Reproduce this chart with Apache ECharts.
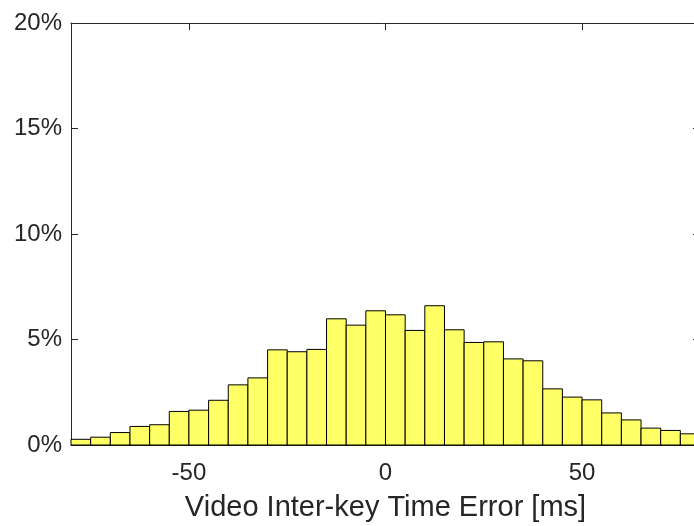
<!DOCTYPE html>
<html>
<head>
<meta charset="utf-8">
<script src="https://cdn.jsdelivr.net/npm/echarts@6/dist/echarts.min.js"></script>
<style>
  html, body { margin: 0; padding: 0; background: #fff; }
  #chart { width: 694px; height: 526px; }
</style>
</head>
<body>
<div id="chart"></div>
<script>
// Histogram of video inter-key time error, 5 ms bins from -80 to 80 ms
const binWidth = 5;
const binStarts = [-80, -75, -70, -65, -60, -55, -50, -45, -40, -35, -30, -25, -20, -15, -10, -5,
                   0, 5, 10, 15, 20, 25, 30, 35, 40, 45, 50, 55, 60, 65, 70, 75];
const binPercent = [0.27, 0.37, 0.59, 0.88, 0.96, 1.59, 1.65, 2.12, 2.85, 3.18, 4.51, 4.42, 4.53, 5.98, 5.68, 6.36,
                    6.17, 5.43, 6.60, 5.46, 4.86, 4.89, 4.08, 3.99, 2.66, 2.27, 2.14, 1.52, 1.19, 0.80, 0.69, 0.53];
const xTicks = [-50, 0, 50];
const yTicks = [0, 5, 10, 15, 20];
const xTitle = 'Video Inter-key Time Error [ms]';

const ink = '#262626';
const fontFamily = '"Liberation Sans", Arial, Helvetica, sans-serif';

const histData = binStarts.map((s, i) => [s, s + binWidth, binPercent[i]]);

const chart = echarts.init(document.getElementById('chart'), null, { renderer: 'canvas' });

chart.setOption({
  animation: false,
  backgroundColor: '#fff',
  grid: {
    left: 71, top: 23, width: 629, height: 422,
    outerBoundsMode: 'none',
    containLabel: false
  },
  xAxis: [
    {
      type: 'value', min: -80, max: 80, position: 'bottom',
      name: xTitle, nameLocation: 'middle', nameGap: 48,
      nameTextStyle: { color: ink, fontSize: 29, fontFamily: fontFamily },
      axisLine: { show: true, onZero: false, lineStyle: { color: ink, width: 1 } },
      axisTick: { show: true, inside: true, length: 7, customValues: xTicks, lineStyle: { color: ink } },
      axisLabel: { show: true, customValues: xTicks, color: ink, fontSize: 24, fontFamily: fontFamily, margin: 16 },
      splitLine: { show: false }
    },
    {
      type: 'value', min: -80, max: 80, position: 'top',
      axisLine: { show: true, onZero: false, lineStyle: { color: ink, width: 1 } },
      axisTick: { show: true, inside: true, length: 7, customValues: xTicks, lineStyle: { color: ink } },
      axisLabel: { show: false },
      splitLine: { show: false }
    }
  ],
  yAxis: [
    {
      type: 'value', min: 0, max: 20, interval: 5, position: 'left',
      axisLine: { show: true, onZero: false, lineStyle: { color: ink, width: 1 } },
      axisTick: { show: true, inside: true, length: 7, lineStyle: { color: ink } },
      axisLabel: { show: true, color: ink, fontSize: 24, fontFamily: fontFamily, margin: 9,
                   padding: [6, 0, 0, 0],
                   formatter: v => (yTicks.includes(v) ? v + '%' : '') },
      splitLine: { show: false }
    },
    {
      type: 'value', min: 0, max: 20, interval: 5, position: 'right',
      axisLine: { show: true, onZero: false, lineStyle: { color: ink, width: 1 } },
      axisTick: { show: true, inside: true, length: 7, lineStyle: { color: ink } },
      axisLabel: { show: false },
      splitLine: { show: false }
    }
  ],
  series: [
    {
      type: 'custom',
      xAxisIndex: 0,
      yAxisIndex: 0,
      data: histData,
      encode: { x: [0, 1], y: 2 },
      renderItem: function (params, api) {
        const topLeft = api.coord([api.value(0), api.value(2)]);
        const bottomRight = api.coord([api.value(1), 0]);
        return {
          type: 'rect',
          shape: {
            x: topLeft[0],
            y: topLeft[1],
            width: bottomRight[0] - topLeft[0],
            height: bottomRight[1] - topLeft[1]
          },
          style: { fill: '#ffff66', stroke: '#000', lineWidth: 1 }
        };
      }
    }
  ]
});
</script>
</body>
</html>
